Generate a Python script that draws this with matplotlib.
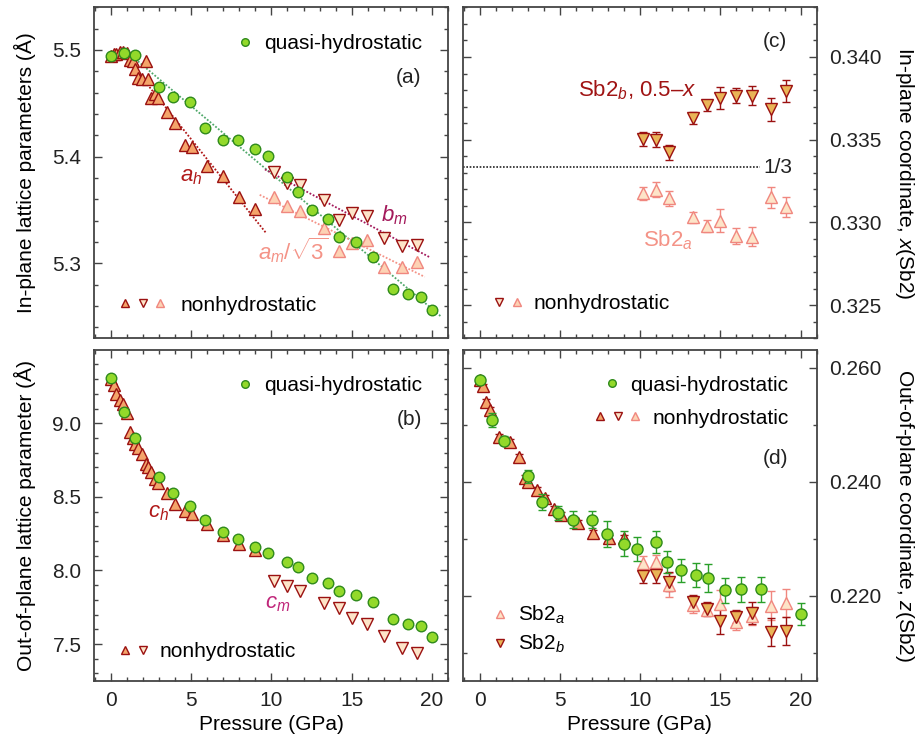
import numpy as np
import matplotlib
matplotlib.use('Agg')
import matplotlib.pyplot as plt
from matplotlib.legend import Legend
from matplotlib.legend_handler import HandlerTuple
from matplotlib.lines import Line2D
from matplotlib.ticker import MultipleLocator, FormatStrFormatter

plt.rcParams['font.family'] = ['Liberation Sans', 'DejaVu Sans']
plt.rcParams['mathtext.fontset'] = 'custom'
plt.rcParams['mathtext.rm'] = 'Liberation Sans'
plt.rcParams['mathtext.it'] = 'Liberation Sans:italic'
plt.rcParams['mathtext.bf'] = 'Liberation Sans:bold'
FS = 15

#* ---------------------------------------------------------------
#* datos: quasi-hidrostatico
#* ---------------------------------------------------------------
p_quasi = [0.0, 0.8, 1.5, 3.0, 3.9, 4.9, 5.85, 7.0, 7.95, 9.0, 9.8, 11.0,
           11.65, 12.55, 13.5, 14.2, 15.3, 16.3, 17.55, 18.5, 19.3, 20.0]
a_quasi = [5.494, 5.4975, 5.495, 5.465, 5.456, 5.451, 5.427, 5.416, 5.416, 5.407, 5.401,
           5.381, 5.367, 5.350, 5.342, 5.325, 5.320, 5.306, 5.276, 5.271, 5.268, 5.256]
c_quasi = [9.306, 9.075, 8.903, 8.633, 8.529, 8.438, 8.345, 8.259, 8.216, 8.157, 8.116,
           8.060, 8.023, 7.951, 7.917, 7.858, 7.835, 7.783, 7.672, 7.634, 7.620, 7.550]
z_quasi = [0.2578, 0.2508, 0.2472, 0.2409, 0.2365, 0.2345, 0.2333, 0.2333, 0.2308, 0.2291, 0.2282,
           0.2294, 0.2259, 0.2244, 0.2236, 0.2231, 0.2209, 0.2211, 0.2211, np.nan, np.nan, 0.2168]
z_quasi_err = [0.0006, 0.0013, 0.0008, 0.0011, 0.0014, 0.0012, 0.0015, 0.0015, 0.0022, 0.0022, 0.0021,
               0.0020, 0.0020, 0.0020, 0.0021, 0.0025, 0.0022, 0.0022, 0.0022, np.nan, np.nan, 0.0019]

#* ---------------------------------------------------------------
#* datos: no hidrostatico, fase hexagonal
#* ---------------------------------------------------------------
p_hex = [0.0, 0.19, 0.35, 0.54, 0.77, 1.02, 1.18, 1.39, 1.53, 1.70, 1.95, 2.16,
         2.32, 2.53, 2.74, 2.95, 3.47, 3.98, 4.6, 5.04, 6.0, 6.97, 7.99, 8.98]
a_hex = [5.494, 5.496, 5.496, 5.498, 5.498, 5.497, 5.491, 5.490, 5.482, 5.474, 5.473, 5.490,
         5.4725, 5.455, 5.459, 5.455, 5.442, 5.432, 5.411, 5.409, 5.391, 5.382, 5.362, 5.351]
c_hex = [9.30, 9.26, 9.199, 9.158, 9.131, 9.068, 8.943, 8.898, 8.859, 8.830, 8.791, 8.724,
         8.705, 8.671, 8.620, 8.597, 8.524, 8.452, 8.402, 8.384, 8.316, 8.241, 8.182, 8.137]
p_hex_z = [0.0, 0.23, 0.42, 0.62, 1.24, 1.87, 2.43, 2.8, 3.01, 3.59, 4.09, 4.63, 5.08,
           6.12, 7.05, 8.09, 9.02]
z_hex = [0.2579, 0.2567, 0.2540, 0.2526, 0.2479, 0.2470, 0.2444, 0.2406, 0.2400, 0.2385,
         0.2371, 0.2352, 0.2342, 0.2327, 0.2310, 0.2301, 0.2301]
z_hex_err = [0.0005] * len(z_hex)

#* ---------------------------------------------------------------
#* datos: no hidrostatico, fase monoclinica
#* ---------------------------------------------------------------
p_mono = [10.15, 10.98, 11.78, 13.28, 14.18, 15.0, 15.98, 16.99, 18.13, 19.08]
b_mono = [5.386, 5.375, 5.3735, 5.359, 5.341, 5.3475, 5.344, 5.3235, 5.316, 5.317]
a_mono_r3 = [5.3625, 5.3538, 5.349, 5.3329, 5.3116, 5.3194, 5.3219, 5.2969, 5.2969, 5.3016]
c_mono = [7.931, 7.895, 7.863, 7.777, 7.743, 7.675, 7.635, 7.555, 7.471, 7.437]
x_sb2b = [0.33504, 0.33500, 0.33423, 0.33631, 0.33707, 0.33752, 0.33767, 0.33767, 0.33684, 0.33795]
x_sb2b_err = [0.0004, 0.00047, 0.00047, 0.00036, 0.00035, 0.00065, 0.00045, 0.00055, 0.00068, 0.00068]
x_sb2a = [0.33175, 0.33199, 0.33145, 0.33031, 0.32979, 0.33011, 0.32918, 0.32915, 0.33152, 0.33092]
x_sb2a_err = [0.00042, 0.00045, 0.00048, 0.00035, 0.00037, 0.00069, 0.00047, 0.00056, 0.00065, 0.00061]
z_sb2a = [0.22569, 0.22597, 0.22188, 0.21837, 0.2175, 0.21855, 0.21544, 0.21644, 0.21825, 0.21867]
z_sb2a_err = [0.0012, 0.0012, 0.0021, 0.0015, 0.0010, 0.0025, 0.0015, 0.0016, 0.0025, 0.0024]
z_sb2b = [0.22346, 0.22364, 0.22246, 0.21878, 0.21762, 0.21557, 0.21632, 0.21692, 0.21358, 0.21381]
z_sb2b_err = [0.0012, 0.0015, 0.0016, 0.0013, 0.0012, 0.0024, 0.0011, 0.0020, 0.0025, 0.0025]

#* ---------------------------------------------------------------
#* colores
#* ---------------------------------------------------------------
G_FACE, G_EDGE = '#93d92a', '#2f8a1c'
H_FACE, H_EDGE = '#f4a46a', '#9b1111'
MB_FACE = '#fde4c8'
MA_FACE, MA_EDGE = '#fdd2b4', '#f0877f'
SB_FACE = '#e9b457'
RED_TXT = '#b01818'
PURP = '#a3195b'
PINK = '#f49387'
GFIT = '#4fa86a'
SPINE = '#444444'


def style_axis(ax, ylim, major, minor, fmt, bottom_labels, right_labels):
    ax.set_xlim(-1.05, 21.0)
    ax.set_ylim(*ylim)
    ax.xaxis.set_major_locator(MultipleLocator(5))
    ax.xaxis.set_minor_locator(MultipleLocator(1))
    ax.yaxis.set_major_locator(MultipleLocator(major))
    ax.yaxis.set_minor_locator(MultipleLocator(minor))
    ax.yaxis.set_major_formatter(FormatStrFormatter(fmt))
    ax.tick_params(which='both', direction='in', top=True, right=True, color=SPINE,
                   width=1.0, labelsize=FS, labelcolor='#222222')
    ax.tick_params(which='major', length=5.5)
    ax.tick_params(which='minor', length=3)
    ax.tick_params(axis='x', pad=7, labelbottom=bottom_labels)
    ax.tick_params(axis='y', pad=9, labelleft=not right_labels, labelright=right_labels)
    for s in ax.spines.values():
        s.set_linewidth(1.3)
        s.set_color(SPINE)


def mk(marker, face, edge, ms=8):
    return Line2D([], [], ls='none', marker=marker, mfc=face, mec=edge, mew=1.0, ms=ms)


def tuple_legend(ax, handles, label, loc, anchor, textpad=9.0):
    fs_px = FS * 100 / 72
    n = len(handles)
    leg = Legend(ax, [tuple(handles)], [label], loc=loc, bbox_to_anchor=anchor,
                 handler_map={tuple: HandlerTuple(ndivide=None, pad=0)},
                 handlelength=17.6 * n / fs_px, handletextpad=textpad / fs_px,
                 frameon=False, borderpad=0, borderaxespad=0, fontsize=FS,
                 markerscale=0.72)
    ax.add_artist(leg)


def fit_line(ax, p, v, p_lo, p_hi, color):
    coef = np.polyfit(p, v, 1)
    pp = np.linspace(p_lo, p_hi, 60)
    ax.plot(pp, np.polyval(coef, pp), ls=(0, (1, 1)), lw=1.3, color=color, zorder=1)


fig = plt.figure(figsize=(9.19, 7.44), dpi=100)
W, H = 919, 744
ax_a = fig.add_axes([94 / W, 1 - 338.3 / H, 354 / W, 331 / H])
ax_b = fig.add_axes([94 / W, 1 - 681 / H, 354 / W, 331 / H])
ax_c = fig.add_axes([462.7 / W, 1 - 338.3 / H, 354 / W, 331 / H])
ax_d = fig.add_axes([462.7 / W, 1 - 681 / H, 354 / W, 331 / H])

#* ---------------------------------------------------------------
#* (a) parametros en el plano
#* ---------------------------------------------------------------
pq = np.array(p_quasi)
aq = np.array(a_quasi)
ph = np.array(p_hex)
ah = np.array(a_hex)
fit_line(ax_a, pq[pq > 0.5], aq[pq > 0.5], 1.0, 20.6, GFIT)
fit_line(ax_a, ph[ph > 1.3], ah[ph > 1.3], 1.0, 9.7, RED_TXT)
fit_line(ax_a, p_mono, b_mono, 9.6, 19.85, PURP)
fit_line(ax_a, p_mono, a_mono_r3, 9.27, 19.55, PINK)
ax_a.plot(p_hex, a_hex, ls='none', marker='^', ms=8.5, mfc=H_FACE, mec=H_EDGE, mew=1.0, zorder=3)
ax_a.plot(p_mono, a_mono_r3, ls='none', marker='^', ms=8.5, mfc=MA_FACE, mec=MA_EDGE, mew=1.0, zorder=3)
ax_a.plot(p_mono, b_mono, ls='none', marker='v', ms=8.5, mfc=MB_FACE, mec=H_EDGE, mew=1.0, zorder=3)
ax_a.plot(p_quasi, a_quasi, ls='none', marker='o', ms=7.6, mfc=G_FACE, mec=G_EDGE, mew=1.0, zorder=4)
style_axis(ax_a, (5.2297, 5.540), 0.1, 0.02, '%.1f', False, False)
ax_a.set_ylabel('In-plane lattice parameters (Å)', fontsize=FS)
ax_a.yaxis.set_label_coords(-0.164, 0.5)
ax_a.text(5.02, 5.381, '$a_h$', color=RED_TXT, fontsize=FS + 1, ha='center', va='center')
ax_a.text(17.67, 5.345, '$b_m$', color=PURP, fontsize=FS + 1, ha='center', va='center')
ax_a.text(11.35, 5.3125, r'$a_m/\sqrt{3}$', color=PINK, fontsize=FS + 1, ha='center', va='center')
ax_a.text(18.57, 5.474, '(a)', fontsize=FS, ha='center', va='center', color='#222222')
tuple_legend(ax_a, [mk('o', G_FACE, G_EDGE, 7.6)], 'quasi-hydrostatic', 'center right', (0.926, 0.891), 10.2)
tuple_legend(ax_a, [mk('^', H_FACE, H_EDGE), mk('v', MB_FACE, H_EDGE), mk('^', MA_FACE, MA_EDGE)],
             'nonhydrostatic', 'center left', (0.0627, 0.1006), 11.2)

#* ---------------------------------------------------------------
#* (b) parametro fuera del plano
#* ---------------------------------------------------------------
ax_b.plot(p_hex, c_hex, ls='none', marker='^', ms=8.5, mfc=H_FACE, mec=H_EDGE, mew=1.0, zorder=3)
ax_b.plot(p_mono, c_mono, ls='none', marker='v', ms=8.5, mfc=MB_FACE, mec=H_EDGE, mew=1.0, zorder=3)
ax_b.plot(p_quasi, c_quasi, ls='none', marker='o', ms=7.6, mfc=G_FACE, mec=G_EDGE, mew=1.0, zorder=4)
style_axis(ax_b, (7.249, 9.498), 0.5, 0.1, '%.1f', True, False)
ax_b.set_ylabel('Out-of-plane lattice parameter (Å)', fontsize=FS)
ax_b.yaxis.set_label_coords(-0.164, 0.5)
ax_b.set_xlabel('Pressure (GPa)', fontsize=FS, labelpad=4)
ax_b.text(2.95, 8.393, '$c_h$', color=RED_TXT, fontsize=FS + 1, ha='center', va='center')
ax_b.text(10.41, 7.776, '$c_m$', color='#c0267a', fontsize=FS + 1, ha='center', va='center')
ax_b.text(18.57, 9.027, '(b)', fontsize=FS, ha='center', va='center', color='#222222')
tuple_legend(ax_b, [mk('o', G_FACE, G_EDGE, 7.6)], 'quasi-hydrostatic', 'center right', (0.926, 0.892), 10.2)
tuple_legend(ax_b, [mk('^', H_FACE, H_EDGE), mk('v', MB_FACE, H_EDGE)],
             'nonhydrostatic', 'center left', (0.0627, 0.0885), 7.8)

#* ---------------------------------------------------------------
#* (c) coordenada x(Sb2)
#* ---------------------------------------------------------------
ax_c.hlines(1 / 3, -1.05, 17.45, colors='#222222', linestyles=(0, (1, 1)), lw=1.2, zorder=1)
ax_c.errorbar(p_mono, x_sb2a, yerr=x_sb2a_err, fmt='^', ms=8, mfc=MB_FACE, mec=MA_EDGE, mew=1.0,
              ecolor=MA_EDGE, elinewidth=1.0, capsize=3, capthick=1.0, zorder=3)
ax_c.errorbar(p_mono, x_sb2b, yerr=x_sb2b_err, fmt='v', ms=8, mfc=SB_FACE, mec=H_EDGE, mew=1.0,
              ecolor=H_EDGE, elinewidth=1.0, capsize=3, capthick=1.0, zorder=3)
style_axis(ax_c, (0.3230, 0.3430), 0.005, 0.001, '%.3f', False, True)
ax_c.yaxis.set_label_position('right')
ax_c.set_ylabel('In-plane coordinate, $x$(Sb2)', fontsize=FS, rotation=270, va='bottom')
ax_c.yaxis.set_label_coords(1.2155, 0.5)
ax_c.text(9.8, 0.3380, 'Sb2$_b$, 0.5–$x$', color='#a01414', fontsize=FS + 1, ha='center', va='center')
ax_c.text(11.76, 0.32891, 'Sb2$_a$', color=PINK, fontsize=FS + 1, ha='center', va='center')
ax_c.text(18.6, 0.3333, '1/3', fontsize=FS, ha='center', va='center', color='#222222')
ax_c.text(18.4, 0.34095, '(c)', fontsize=FS, ha='center', va='center', color='#222222')
tuple_legend(ax_c, [mk('v', MB_FACE, H_EDGE), mk('^', MA_FACE, MA_EDGE)],
             'nonhydrostatic', 'center left', (0.0785, 0.1057), 7.9)

#* ---------------------------------------------------------------
#* (d) coordenada z(Sb2)
#* ---------------------------------------------------------------
ax_d.errorbar(p_hex_z, z_hex, yerr=z_hex_err, fmt='^', ms=8, mfc=H_FACE, mec=H_EDGE, mew=1.0,
              ecolor=H_EDGE, elinewidth=1.0, capsize=3, capthick=1.0, zorder=3)
ax_d.errorbar(p_mono, z_sb2a, yerr=z_sb2a_err, fmt='^', ms=8, mfc=MB_FACE, mec=MA_EDGE, mew=1.0,
              ecolor=MA_EDGE, elinewidth=1.0, capsize=3, capthick=1.0, zorder=3)
ax_d.errorbar(p_mono, z_sb2b, yerr=z_sb2b_err, fmt='v', ms=8, mfc=SB_FACE, mec=H_EDGE, mew=1.0,
              ecolor=H_EDGE, elinewidth=1.0, capsize=3, capthick=1.0, zorder=3)
ax_d.errorbar(p_quasi, z_quasi, yerr=z_quasi_err, fmt='o', ms=8, mfc=G_FACE, mec=G_EDGE, mew=1.0,
              ecolor='#2aa02a', elinewidth=1.0, capsize=3, capthick=1.0, zorder=4)
style_axis(ax_d, (0.2050, 0.2631), 0.02, 0.01, '%.3f', True, True)
ax_d.yaxis.set_label_position('right')
ax_d.set_ylabel('Out-of-plane coordinate, $z$(Sb2)', fontsize=FS, rotation=270, va='bottom')
ax_d.yaxis.set_label_coords(1.2155, 0.5)
ax_d.set_xlabel('Pressure (GPa)', fontsize=FS, labelpad=4)
ax_d.text(18.45, 0.2441, '(d)', fontsize=FS, ha='center', va='center', color='#222222')
tuple_legend(ax_d, [mk('o', G_FACE, G_EDGE, 7.6)], 'quasi-hydrostatic', 'center right', (0.920, 0.894), 9.6)
tuple_legend(ax_d, [mk('^', H_FACE, H_EDGE), mk('v', MB_FACE, H_EDGE), mk('^', MA_FACE, MA_EDGE)],
             'nonhydrostatic', 'center right', (0.920, 0.794), 8.2)
tuple_legend(ax_d, [mk('^', MB_FACE, MA_EDGE)], 'Sb2$_a$', 'center left', (0.0805, 0.199), 9.5)
tuple_legend(ax_d, [mk('v', SB_FACE, H_EDGE)], 'Sb2$_b$', 'center left', (0.0805, 0.111), 9.5)

fig.savefig('out.png', dpi=100)
